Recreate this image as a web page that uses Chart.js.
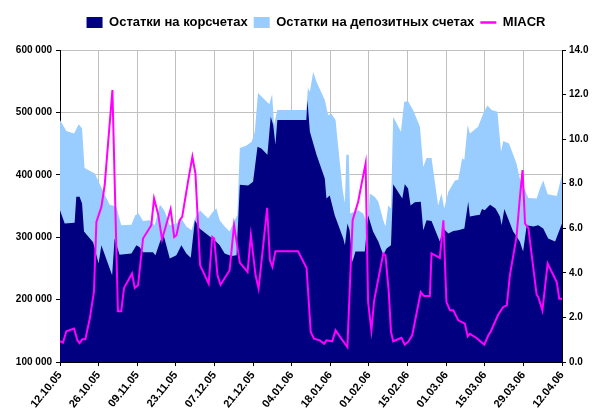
<!DOCTYPE html>
<html><head><meta charset="utf-8">
<script src="https://cdn.jsdelivr.net/npm/chart.js@4.4.0/dist/chart.umd.min.js"></script>
<style>html,body{margin:0;padding:0;background:#fff}#wrap{width:600px;height:413px}</style>
</head><body><div id="wrap"><canvas id="c" width="600" height="413"></canvas></div>
<script>
// ---- data (x = days since 12.10.05) ----
const startDate = Date.UTC(2005, 9, 12);
const lastDay = 182;
const tickStepDays = 14;
const seriesNames = ['Остатки на корсчетах', 'Остатки на депозитных счетах', 'MIACR'];

// Остатки на корсчетах
const korrDay = [0,1.7,5.3,5.9,7.1,8,8.7,12,14,15,18.9,19.8,21.6,25.9,27.7,28.9,30.1,33.7,34.6,36.2,37.4,39.8,42.2,44,45.8,47.4,48.9,50.6,53.7,56.1,57.9,59.7,62.1,64,65.2,68.2,70,71.6,73,75.2,76.4,77.3,78.1,78.8,89.3,89.7,90.6,93,96,96.6,97.8,99.6,102.7,103.3,104.2,105,106,107.1,110.5,111.7,113.5,115.4,117.2,118.4,120,120.8,124.1,125,126.2,127.1,128.6,130.8,131.7,132.9,134.7,137.7,139,140.8,142.6,144.4,146.6,148,148.6,151,152.2,153,154,155.9,157.9,159.5,160.1,161.1,164.3,166.7,167.9,169.2,171.6,173.4,175.2,177,179.5,182];
const korrValue = [343000,322000,323000,365000,365000,354000,309000,292000,258000,287000,239000,298000,272000,274000,287000,284000,276000,276000,271000,292000,306000,266000,271000,287000,274000,267000,327000,314000,303000,295000,287000,274000,270000,271000,384000,383000,389000,445000,442000,432000,493000,480000,448000,488000,488000,520000,469000,432000,394000,362000,367000,335000,298000,287000,322000,311000,260000,277000,277000,335000,309000,293000,272000,282000,287000,385000,362000,385000,378000,351000,356000,357000,311000,327000,326000,293000,314000,306000,310000,311000,314000,357000,333000,335000,336000,345000,343000,352000,346000,333000,319000,345000,309000,293000,277000,319000,317000,319000,314000,298000,293000,322000];

// Остатки на корсчетах + на депозитных счетах (top of the light area)
const depoDay = [0,2.3,5.1,6.8,8,8.9,12.6,15.5,18,20.4,22.2,25.9,27.3,28.5,30.1,32.5,34.3,36.2,36.8,38,39.8,42.2,44,45.8,47.7,48.9,50.7,53.7,55.5,56.7,57.9,59.7,61.5,63.1,64.3,65.2,67.6,69.5,70.6,71.8,73.6,75.9,76.9,77.6,78.8,89.3,89.9,90.6,91.8,93,96,97.2,98.4,99.9,101.2,102.5,103.3,103.8,104.7,105.2,108.1,109.9,111.7,112.3,114.1,115.4,117.2,118,119,120,120.8,123.6,124.8,126.2,128,130.5,131.7,132.9,134.7,137.1,138.3,139.3,140.8,143.2,144.4,145.8,146.6,147.8,148.6,151.6,153.4,155,156.5,158.6,159.9,160.7,162.8,165.5,166.7,167.9,169.8,172.8,174,175.2,176.8,180.1,182];
const depoTotal = [488000,470000,466000,481000,474000,411000,402000,375000,352000,349000,319000,320000,335000,338000,326000,327000,319000,352000,349000,341000,319000,322000,330000,317000,311000,330000,343000,330000,341000,346000,327000,317000,309000,325000,335000,443000,447000,453000,468000,531000,523000,513000,529000,480000,504000,504000,539000,533000,565000,549000,520000,496000,498000,488000,430000,375000,355000,432000,432000,338000,343000,338000,319000,370000,365000,357000,327000,317000,351000,346000,493000,469000,517000,518000,504000,477000,413000,427000,427000,351000,370000,346000,373000,391000,392000,426000,424000,480000,466000,477000,498000,511000,504000,501000,437000,454000,450000,418000,394000,383000,363000,362000,378000,391000,369000,366000,400000];

// MIACR, %
const miacrDay = [0,1.1,2.3,5.1,6.3,7.1,8.1,9.2,10.8,12.3,13.2,15,16.2,19,21,22.2,23.2,26.1,27.1,28.3,30.1,33.1,34.1,35.6,37,40.1,41.4,42.2,43.4,44.3,46.4,48,49.1,50.8,53.9,55.2,55.9,57.1,58.2,61.5,63.1,65.2,68,69.2,70.9,72,73.3,75.1,76.1,77,78.1,86.3,89.4,90.9,92.1,94.2,95.8,96.6,98.7,99.9,102,104.2,105.1,106.1,108.1,109.6,110.8,111.7,112.9,113.9,117.2,118,119.2,120,120.8,123.8,125,126.2,127.7,130.8,132,134.1,134.7,137.7,139,140.1,141.4,142.6,144.4,146.8,147.8,148.6,151,153.8,155.3,156.2,158.9,160.7,162,163.1,165.5,166.7,167.7,168.6,169.8,172.8,173.4,174.9,176.8,180.1,181,182];
const miacrValue = [0.93,0.87,1.38,1.50,0.97,0.85,1.02,1.02,1.95,3.14,6.29,6.96,7.93,12.2,2.28,2.28,3.32,3.97,3.32,3.44,5.54,6.14,7.34,6.62,5.5,6.86,5.61,5.69,6.36,6.51,8.08,9.21,8.46,4.34,3.52,5.61,5.54,3.89,3.47,4.12,6.14,4.46,4.04,5.69,3.89,3.3,4.8,6.92,4.57,4.27,4.97,4.97,4.22,1.35,1.05,0.97,0.82,0.97,0.93,1.42,1.05,0.67,3.44,6.36,7.19,8.16,8.91,2.69,1.42,2.77,4.87,4.79,3.14,1.35,0.93,1.09,0.78,0.90,1.20,3.14,2.96,2.96,4.87,4.67,6.36,2.69,2.32,2.32,1.87,1.72,1.15,1.27,1.08,0.78,1.20,1.38,2.13,2.47,2.54,3.89,5.61,7.34,8.61,6.21,6.02,3.02,2.92,2.32,4.42,3.59,2.84,2.84];

// axis ranges
const leftMin = 100000, leftMax = 600000, leftStep = 100000;
const rightMin = 0, rightMax = 14, rightStep = 2;

// ---- helpers ----
const pts = (xs, ys) => xs.map((x, i) => ({x: x, y: ys[i]}));
const fmtThousands = v => String(Math.round(v)).replace(/\B(?=(\d{3})+(?!\d))/g, ' ');
const fmtDate = d => {
  const t = new Date(startDate + Math.round(d) * 86400000);
  const p = n => String(n).padStart(2, '0');
  return p(t.getUTCDate()) + '.' + p(t.getUTCMonth() + 1) + '.' + p(t.getUTCFullYear() % 100);
};

const FONT = "'Liberation Sans', Arial, sans-serif";
Chart.defaults.font.family = FONT;
Chart.defaults.font.weight = 'bold';
Chart.defaults.color = '#000';

const NAVY = '#000080', LIGHT = '#99ccff', MAGENTA = '#ff00ff', GRID = '#c0c0c0';
const legendOrder = [1, 2, 0];
const TICK_FONT = { size: 10, weight: 'bold', family: FONT };
const XTICK_FONT = { size: 11, weight: 'bold', family: FONT };

const legendPlace = {
  id: 'legendPlace',
  beforeInit(chart) {
    const orig = chart.legend.fit;
    chart.legend.fit = function () { orig.bind(chart.legend)(); this.height += 11; };
  },
  afterLayout(chart) { chart.legend.left = 32; }
};

new Chart(document.getElementById('c'), {
  type: 'line',
  data: {
    datasets: [
      { label: seriesNames[2], data: pts(miacrDay, miacrValue), yAxisID: 'y1',
        borderColor: MAGENTA, backgroundColor: MAGENTA, borderWidth: 2, pointRadius: 0,
        tension: 0, fill: false },
      { label: seriesNames[0], data: pts(korrDay, korrValue), yAxisID: 'y',
        borderColor: NAVY, backgroundColor: NAVY, borderWidth: 0, pointRadius: 0,
        tension: 0, fill: 'start' },
      { label: seriesNames[1], data: pts(depoDay, depoTotal), yAxisID: 'y',
        borderColor: LIGHT, backgroundColor: LIGHT, borderWidth: 0, pointRadius: 0,
        tension: 0, fill: 'start' }
    ]
  },
  options: {
    responsive: false,
    animation: false,
    events: [],
    layout: { padding: { left: 0, right: 0, top: 10, bottom: 0 } },
    plugins: {
      tooltip: { enabled: false },
      legend: {
        display: true, position: 'top',
        labels: {
          font: { size: 13, weight: 'bold', family: FONT },
          color: '#000',
          usePointStyle: true, pointStyleWidth: 16, boxHeight: 11, padding: 6,
          generateLabels(chart) {
            const ds = chart.data.datasets;
            return legendOrder.map(i => ({
              text: ds[i].label,
              fillStyle: i === 0 ? 'rgba(0,0,0,0)' : ds[i].backgroundColor,
              strokeStyle: ds[i].borderColor,
              lineWidth: i === 0 ? 2.5 : 0,
              pointStyle: i === 0 ? 'line' : 'rect',
              fontColor: '#000',
              datasetIndex: i,
              hidden: false
            }));
          }
        }
      }
    },
    scales: {
      x: {
        type: 'linear', min: 0, max: lastDay,
        afterFit(s) { s.height = 51; },
        ticks: { stepSize: tickStepDays, autoSkip: false, maxRotation: 51, minRotation: 51,
                 padding: 3, font: XTICK_FONT, color: '#000',
                 callback: v => fmtDate(v) },
        grid: { color: GRID, lineWidth: 1, tickLength: 4, tickColor: '#000', drawOnChartArea: true },
        border: { color: '#000', width: 1 }
      },
      y: {
        type: 'linear', position: 'left', min: leftMin, max: leftMax,
        afterFit(s) { s.width = 60; },
        ticks: { stepSize: leftStep, padding: 4, font: TICK_FONT, color: '#000',
                 callback: v => fmtThousands(v) },
        grid: { color: GRID, lineWidth: 1, tickLength: 4, tickColor: '#000' },
        border: { color: '#000', width: 1 }
      },
      y1: {
        type: 'linear', position: 'right', min: rightMin, max: rightMax,
        afterFit(s) { s.width = 38; },
        ticks: { stepSize: rightStep, padding: 3, font: TICK_FONT, color: '#000',
                 callback: v => v.toFixed(1) },
        grid: { drawOnChartArea: false, tickLength: 4, tickColor: '#000' },
        border: { color: '#000', width: 1 }
      }
    }
  },
  plugins: [legendPlace]
});
</script>
</body></html>
